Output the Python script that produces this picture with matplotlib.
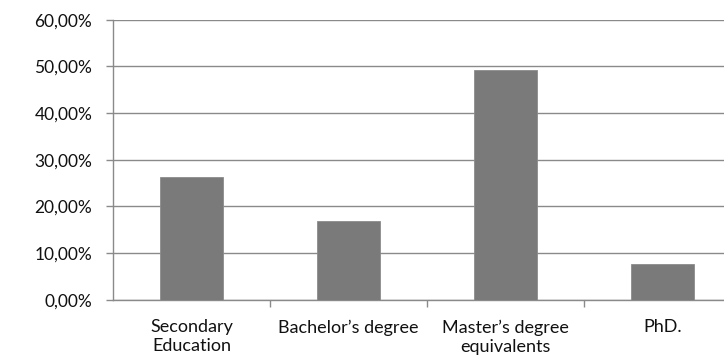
import matplotlib.pyplot as plt
from matplotlib.ticker import FuncFormatter

categories = ["Secondary\nEducation", "Bachelor\u2019s degree", "Master\u2019s degree\nequivalents", "PhD."]
shares = [26.3, 16.9, 49.3, 7.7]
y_ticks = [0, 10, 20, 30, 40, 50, 60]

plt.rcParams['font.family'] = ['Lato', 'DejaVu Sans']

fig = plt.figure(figsize=(7.24, 3.62), dpi=100)
# plot area runs past the right edge like the original crop
ax = fig.add_axes([113 / 724, 62.3 / 362, 628 / 724, 280 / 362])

x = range(len(categories))
ax.bar(x, shares, width=0.4, color='#7a7a7a', edgecolor='#8c8c8c', linewidth=0.6, zorder=3)

ax.set_xlim(-0.5, len(categories) - 0.5)
ax.set_ylim(0, 60)
ax.set_yticks(y_ticks)
ax.yaxis.set_major_formatter(FuncFormatter(lambda v, p: f"{v:.2f}%".replace(".", ",")))
ax.yaxis.grid(True, color='#8a8a8a', linewidth=1.0, zorder=0)

ax.set_xticks(list(x))
ax.set_xticklabels(categories, fontsize=13, linespacing=1.25, color='#111111')
ax.set_xticks([0.5, 1.5, 2.5, 3.5], minor=True)
ax.tick_params(axis='x', which='major', length=0, pad=14)
ax.tick_params(axis='x', which='minor', length=5, color='#8a8a8a', width=1)
ax.tick_params(axis='y', length=5, color='#8a8a8a', width=1, labelsize=12.5, pad=10, labelcolor='#111111')

for side in ['top', 'right']:
    ax.spines[side].set_visible(False)
for side in ['left', 'bottom']:
    ax.spines[side].set_color('#8a8a8a')
    ax.spines[side].set_linewidth(1.0)

fig.savefig('out.png', dpi=100, facecolor='white')
